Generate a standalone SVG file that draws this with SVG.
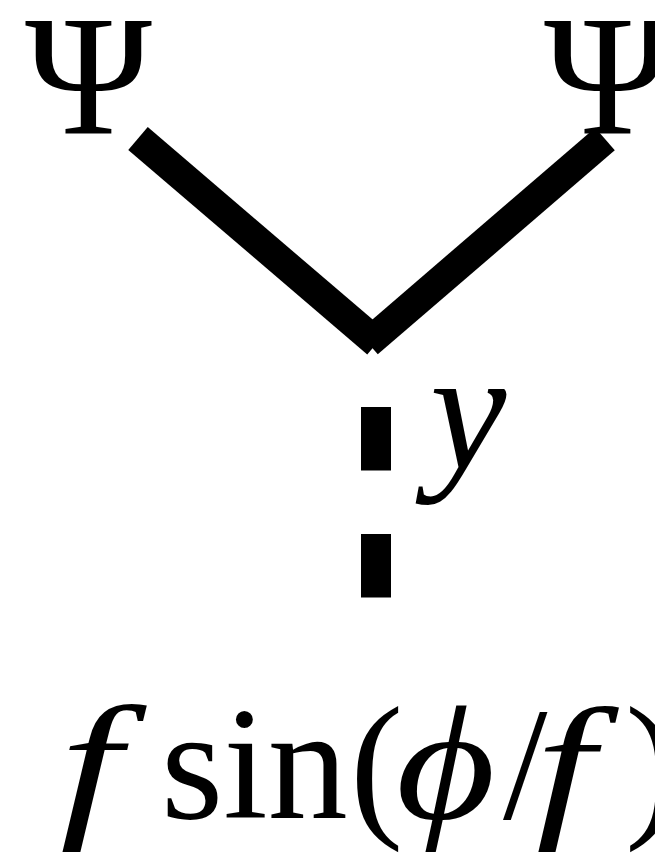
<svg xmlns="http://www.w3.org/2000/svg" width="655" height="853" viewBox="0 0 655 853">
<style>
.t{font-family:"Liberation Serif","Times New Roman",serif;fill:#000}
.i{font-style:italic}
.ln{stroke:#000;stroke-width:30;fill:none;stroke-linecap:butt}
</style>
<rect width="655" height="853" fill="#fff"/>
<g id="connectors">
<line class="ln" x1="138" y1="138.5" x2="377" y2="343"/>
<line class="ln" x1="605" y1="139" x2="368" y2="343"/>
<line class="ln" x1="376" y1="407" x2="376" y2="598" stroke-width="31" stroke-dasharray="63.5 63.5"/>
</g>
<g id="psi-left"><text class="t" x="25" y="133" font-size="172">Ψ</text></g>
<g id="psi-right"><text class="t" x="544" y="133" font-size="172">Ψ</text></g>
<g id="label-y"><text class="t i" x="430" y="468" font-size="172">y</text></g>
<g id="formula" font-size="160">
<text class="t i" transform="translate(60,818) scale(1.38,1)">f</text>
<text class="t" x="161" y="818">sin</text>
<text class="t" x="350" y="818">(</text>
<text class="t i" transform="translate(396,818) scale(1.2,1)">ϕ</text>
<text class="t" x="503" y="818">/</text>
<text class="t i" transform="translate(536,818) scale(1.32,1)">f</text>
<text class="t" x="625" y="818">)</text>
</g>
</svg>
